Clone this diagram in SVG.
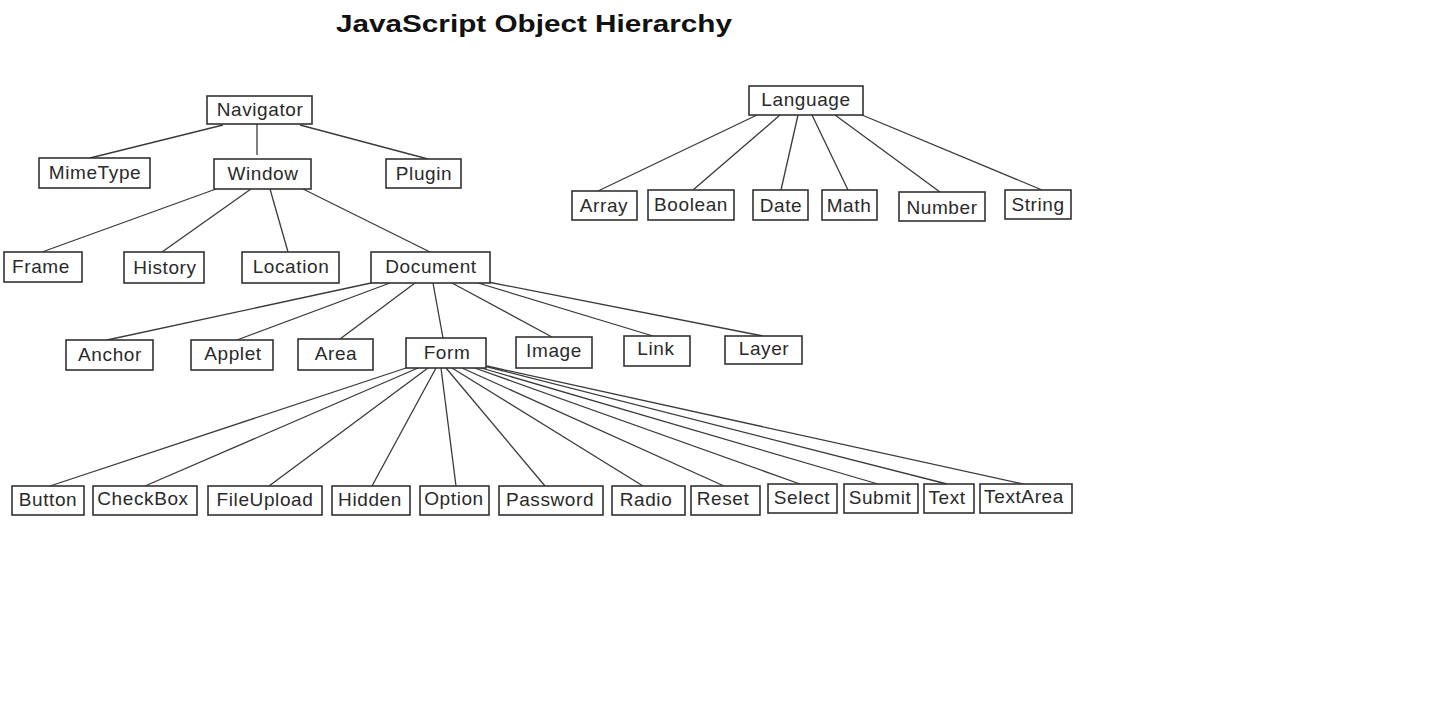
<svg xmlns="http://www.w3.org/2000/svg" width="1437" height="720" viewBox="0 0 1437 720">
<style>
.bg{fill:#ffffff}
.box{fill:#ffffff;stroke:#333333;stroke-width:1.6}
.lbl{font-family:"Liberation Sans",Arial,sans-serif;font-size:19px;fill:#2a2a2a;text-anchor:middle;letter-spacing:0.6px}
.title{font-family:"Liberation Sans",Arial,sans-serif;font-size:23px;font-weight:bold;fill:#111111}
.edge{stroke:#3a3a3a;stroke-width:1.3;fill:none}
</style>
<rect class="bg" x="0" y="0" width="1437" height="720"/>
<text class="title" x="336" y="32" textLength="396" lengthAdjust="spacingAndGlyphs">JavaScript Object Hierarchy</text>
<g id="connectors">
<line class="edge" x1="223" y1="125" x2="90" y2="158"/>
<line class="edge" x1="257" y1="124" x2="257" y2="155"/>
<line class="edge" x1="300" y1="125" x2="428" y2="159"/>
<line class="edge" x1="216" y1="189" x2="42" y2="252"/>
<line class="edge" x1="251" y1="189" x2="162" y2="252"/>
<line class="edge" x1="270" y1="189" x2="288" y2="252"/>
<line class="edge" x1="303" y1="189" x2="430" y2="252"/>
<line class="edge" x1="371" y1="283" x2="107" y2="340"/>
<line class="edge" x1="390" y1="283" x2="237" y2="340"/>
<line class="edge" x1="415" y1="283" x2="340" y2="339"/>
<line class="edge" x1="433" y1="283" x2="443" y2="338"/>
<line class="edge" x1="452" y1="283" x2="552" y2="337"/>
<line class="edge" x1="478" y1="283" x2="653" y2="336"/>
<line class="edge" x1="488" y1="282" x2="763" y2="336"/>
<line class="edge" x1="757" y1="115" x2="598" y2="191"/>
<line class="edge" x1="780" y1="115" x2="693" y2="190"/>
<line class="edge" x1="798" y1="115" x2="781" y2="190"/>
<line class="edge" x1="812" y1="115" x2="848" y2="190"/>
<line class="edge" x1="835" y1="115" x2="940" y2="192"/>
<line class="edge" x1="862" y1="115" x2="1042" y2="190"/>
<line class="edge" x1="406" y1="368" x2="50" y2="486"/>
<line class="edge" x1="418" y1="368" x2="145" y2="486"/>
<line class="edge" x1="428" y1="368" x2="269" y2="486"/>
<line class="edge" x1="436" y1="368" x2="372" y2="486"/>
<line class="edge" x1="441" y1="368" x2="456" y2="486"/>
<line class="edge" x1="446" y1="368" x2="545" y2="486"/>
<line class="edge" x1="452" y1="368" x2="643" y2="486"/>
<line class="edge" x1="462" y1="368" x2="724" y2="486"/>
<line class="edge" x1="472" y1="367" x2="800" y2="484"/>
<line class="edge" x1="478" y1="367" x2="878" y2="484"/>
<line class="edge" x1="484" y1="366" x2="947" y2="484"/>
<line class="edge" x1="487" y1="366" x2="1023" y2="484"/>
</g>
<g id="n-navigator"><rect class="box" x="207" y="96" width="105" height="28"/><text class="lbl" x="260" y="116">Navigator</text></g>
<g id="n-mimetype"><rect class="box" x="39" y="158" width="111" height="30"/><text class="lbl" x="95" y="179">MimeType</text></g>
<g id="n-window"><rect class="box" x="214" y="159" width="97" height="30"/><text class="lbl" x="263" y="180">Window</text></g>
<g id="n-plugin"><rect class="box" x="386" y="159" width="75" height="29"/><text class="lbl" x="424" y="180">Plugin</text></g>
<g id="n-frame"><rect class="box" x="4" y="252" width="78" height="30"/><text class="lbl" x="41" y="273">Frame</text></g>
<g id="n-history"><rect class="box" x="124" y="252" width="80" height="31"/><text class="lbl" x="165" y="274">History</text></g>
<g id="n-location"><rect class="box" x="242" y="252" width="97" height="31"/><text class="lbl" x="291" y="273">Location</text></g>
<g id="n-document"><rect class="box" x="371" y="252" width="119" height="31"/><text class="lbl" x="431" y="273">Document</text></g>
<g id="n-anchor"><rect class="box" x="66" y="340" width="87" height="30"/><text class="lbl" x="110" y="361">Anchor</text></g>
<g id="n-applet"><rect class="box" x="191" y="340" width="82" height="30"/><text class="lbl" x="233" y="360">Applet</text></g>
<g id="n-area"><rect class="box" x="298" y="339" width="75" height="31"/><text class="lbl" x="336" y="360">Area</text></g>
<g id="n-form"><rect class="box" x="406" y="338" width="80" height="30"/><text class="lbl" x="447" y="359">Form</text></g>
<g id="n-image"><rect class="box" x="516" y="337" width="76" height="31"/><text class="lbl" x="554" y="357">Image</text></g>
<g id="n-link"><rect class="box" x="624" y="336" width="66" height="30"/><text class="lbl" x="656" y="355">Link</text></g>
<g id="n-layer"><rect class="box" x="725" y="336" width="77" height="28"/><text class="lbl" x="764" y="355">Layer</text></g>
<g id="n-language"><rect class="box" x="749" y="86" width="114" height="29"/><text class="lbl" x="806" y="106">Language</text></g>
<g id="n-array"><rect class="box" x="572" y="191" width="65" height="29"/><text class="lbl" x="604" y="212">Array</text></g>
<g id="n-boolean"><rect class="box" x="648" y="190" width="86" height="30"/><text class="lbl" x="691" y="211">Boolean</text></g>
<g id="n-date"><rect class="box" x="753" y="190" width="55" height="30"/><text class="lbl" x="781" y="212">Date</text></g>
<g id="n-math"><rect class="box" x="822" y="190" width="55" height="30"/><text class="lbl" x="849" y="212">Math</text></g>
<g id="n-number"><rect class="box" x="899" y="192" width="86" height="29"/><text class="lbl" x="942" y="214">Number</text></g>
<g id="n-string"><rect class="box" x="1005" y="190" width="66" height="29"/><text class="lbl" x="1038" y="211">String</text></g>
<g id="n-button"><rect class="box" x="12" y="486" width="72" height="29"/><text class="lbl" x="48" y="506">Button</text></g>
<g id="n-checkbox"><rect class="box" x="93" y="486" width="104" height="29"/><text class="lbl" x="143" y="505">CheckBox</text></g>
<g id="n-fileupload"><rect class="box" x="208" y="486" width="114" height="29"/><text class="lbl" x="265" y="506">FileUpload</text></g>
<g id="n-hidden"><rect class="box" x="332" y="486" width="78" height="29"/><text class="lbl" x="370" y="506">Hidden</text></g>
<g id="n-option"><rect class="box" x="420" y="486" width="69" height="29"/><text class="lbl" x="454" y="505">Option</text></g>
<g id="n-password"><rect class="box" x="499" y="486" width="104" height="29"/><text class="lbl" x="550" y="506">Password</text></g>
<g id="n-radio"><rect class="box" x="612" y="486" width="73" height="29"/><text class="lbl" x="646" y="506">Radio</text></g>
<g id="n-reset"><rect class="box" x="691" y="486" width="69" height="29"/><text class="lbl" x="723" y="505">Reset</text></g>
<g id="n-select"><rect class="box" x="768" y="484" width="69" height="29"/><text class="lbl" x="802" y="504">Select</text></g>
<g id="n-submit"><rect class="box" x="844" y="484" width="74" height="29"/><text class="lbl" x="880" y="504">Submit</text></g>
<g id="n-text"><rect class="box" x="924" y="484" width="50" height="29"/><text class="lbl" x="947" y="504">Text</text></g>
<g id="n-textarea"><rect class="box" x="980" y="484" width="92" height="29"/><text class="lbl" x="1024" y="503">TextArea</text></g>
</svg>
